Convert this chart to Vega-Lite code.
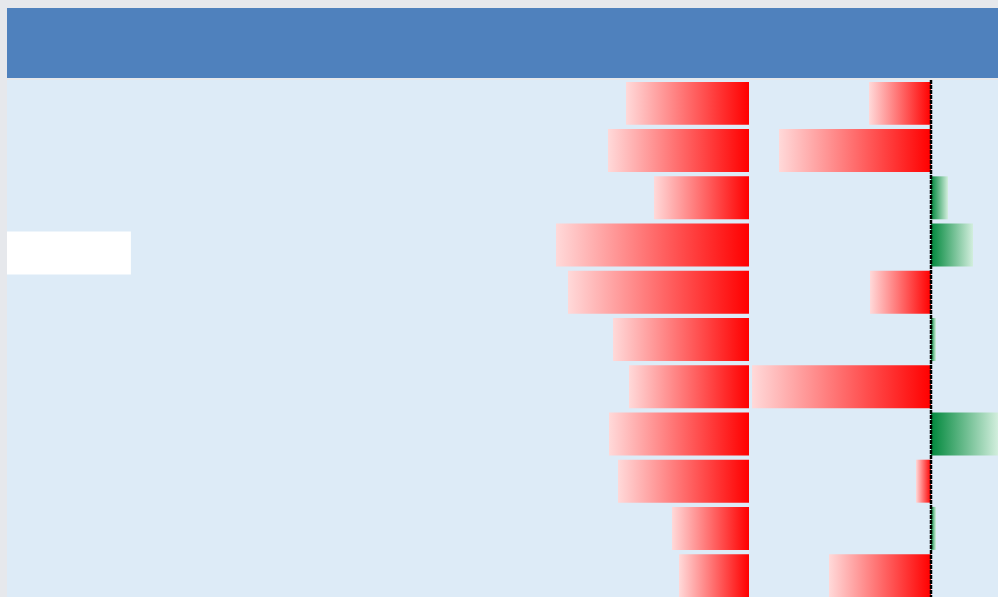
{
  "$schema": "https://vega.github.io/schema/vega-lite/v6.json",
  "background": "#E6E8EC",
  "padding": {"left": 7, "top": 8, "right": 0, "bottom": 0},
  "spacing": 0,
  "config": {"view": {"stroke": null, "fill": "#DDEBF7"}},
  "datasets": {
    "rows": [
      {"row": 1, "v1": 123, "v2": -62},
      {"row": 2, "v1": 141, "v2": -152},
      {"row": 3, "v1": 95, "v2": 17},
      {"row": 4, "v1": 193, "v2": 42},
      {"row": 5, "v1": 181, "v2": -61},
      {"row": 6, "v1": 136, "v2": 5},
      {"row": 7, "v1": 120, "v2": -179},
      {"row": 8, "v1": 140, "v2": 67},
      {"row": 9, "v1": 131, "v2": -15},
      {"row": 10, "v1": 77, "v2": 5},
      {"row": 11, "v1": 70, "v2": -102}
    ]
  },
  "vconcat": [
    {
      "width": 991,
      "height": 70,
      "data": {"values": [{"section": "header"}]},
      "mark": {"type": "rect", "fill": "#4F81BD"},
      "encoding": {}
    },
    {
      "width": 991,
      "height": 519,
      "resolve": {"scale": {"x": "independent"}, "axis": {"x": "independent"}},
      "layer": [
        {
          "data": {"values": [{"col": "A", "row": 4}]},
          "mark": {"type": "rect", "fill": "#FFFFFF", "yOffset": 8},
          "encoding": {
            "x": {"field": "col", "type": "nominal", "axis": null,
                  "scale": {"type": "band", "domain": ["A", "B", "C", "D", "E", "F", "G", "H"], "paddingInner": 0, "paddingOuter": 0}},
            "y": {"field": "row", "type": "ordinal", "axis": null,
                  "scale": {"domain": [1, 2, 3, 4, 5, 6, 7, 8, 9, 10, 11], "paddingInner": 0.09, "paddingOuter": 0.04}}
          }
        },
        {
          "data": {"name": "rows"},
          "mark": {"type": "bar", "color": {"gradient": "linear", "x1": 0, "x2": 1, "y1": 0, "y2": 0,
                   "stops": [{"offset": 0, "color": "#FFD9D9"}, {"offset": 1, "color": "#FF0000"}]}},
          "encoding": {
            "x": {"field": "v1", "type": "quantitative", "axis": null,
                  "scale": {"domain": [-249, 742], "reverse": true, "nice": false, "zero": false}},
            "x2": {"datum": 0},
            "y": {"field": "row", "type": "ordinal", "axis": null}
          }
        },
        {
          "layer": [
            {
              "data": {"name": "rows"},
              "transform": [{"filter": "datum.v2 < 0"}],
              "mark": {"type": "bar", "color": {"gradient": "linear", "x1": 0, "x2": 1, "y1": 0, "y2": 0,
                       "stops": [{"offset": 0, "color": "#FFD9D9"}, {"offset": 1, "color": "#FF0000"}]}},
              "encoding": {
                "x": {"field": "v2", "type": "quantitative", "axis": null,
                      "scale": {"domain": [-924, 67], "nice": false, "zero": false}},
                "x2": {"datum": 0},
                "y": {"field": "row", "type": "ordinal", "axis": null}
              }
            },
            {
              "data": {"name": "rows"},
              "transform": [{"filter": "datum.v2 > 0"}],
              "mark": {"type": "bar", "color": {"gradient": "linear", "x1": 0, "x2": 1, "y1": 0, "y2": 0,
                       "stops": [{"offset": 0, "color": "#00883C"}, {"offset": 1, "color": "#D2EEDD"}]}},
              "encoding": {
                "x": {"field": "v2", "type": "quantitative", "axis": null},
                "x2": {"datum": 0},
                "y": {"field": "row", "type": "ordinal", "axis": null}
              }
            },
            {
              "data": {"values": [{"axis": "zero"}]},
              "mark": {"type": "rule", "stroke": "#000000", "strokeWidth": 2.5, "strokeDash": [4, 1]},
              "encoding": {
                "x": {"datum": 0, "type": "quantitative", "axis": null}
              }
            }
          ]
        }
      ]
    }
  ]
}
